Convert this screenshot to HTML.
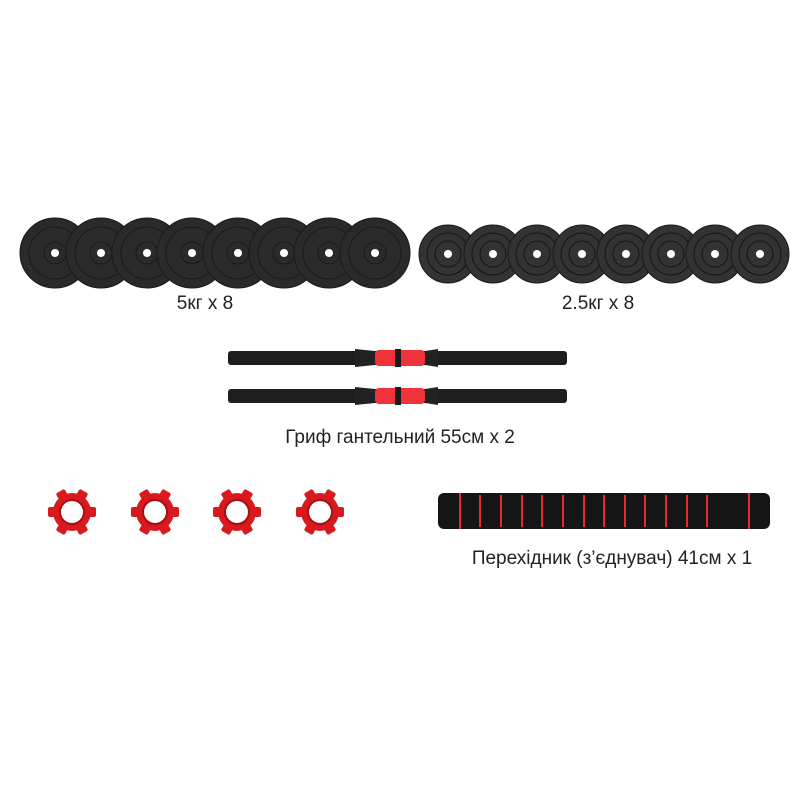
<!DOCTYPE html>
<html><head><meta charset="utf-8"><style>
html,body{margin:0;padding:0;background:#fff;}
svg{display:block;}
text{font-family:"Liberation Sans",sans-serif;fill:#222;}
</style></head><body>
<svg width="800" height="800" viewBox="0 0 800 800" xmlns="http://www.w3.org/2000/svg">
<defs>
<g id="p5">
<circle r="35" fill="#2a2a2a" stroke="#1a1a1a" stroke-width="1"/>
<circle r="26" fill="none" stroke="#1a1a1a" stroke-width="1"/>
<circle r="11" fill="none" stroke="#1a1a1a" stroke-width="1"/>
<circle r="4" fill="#fff"/>
</g>
<g id="p25">
<circle r="29" fill="#333" stroke="#1a1a1a" stroke-width="1"/>
<circle r="21" fill="none" stroke="#151515" stroke-width="1"/>
<circle r="13" fill="none" stroke="#151515" stroke-width="1"/>
<circle r="4" fill="#fff"/>
</g>
<g id="bar">
<rect x="228" y="-7" width="339" height="14" rx="3" fill="#1e1e1e"/>
<path d="M355 -9 L375 -7 L375 7 L355 9 Z" fill="#222"/>
<path d="M438 -9 L425 -7 L425 7 L438 9 Z" fill="#222"/>
<rect x="375" y="-8" width="50" height="16" rx="4" fill="#f0333a"/>
<rect x="395" y="-9" width="6" height="18" fill="#1a1a1a"/>
</g>
<g id="col">
<g fill="#d8191e">
<circle r="19"/>
<rect x="-5" y="-24" width="10" height="7" rx="2" transform="rotate(-30)"/>
<rect x="-5" y="-24" width="10" height="7" rx="2" transform="rotate(30)"/>
<rect x="-5" y="-24" width="10" height="7" rx="2" transform="rotate(90)"/>
<rect x="-5" y="-24" width="10" height="7" rx="2" transform="rotate(150)"/>
<rect x="-5" y="-24" width="10" height="7" rx="2" transform="rotate(210)"/>
<rect x="-5" y="-24" width="10" height="7" rx="2" transform="rotate(270)"/>
</g>
<circle r="12" fill="#fff" stroke="#a50f13" stroke-width="2"/>
</g>
</defs>
<use href="#p5" x="55" y="253"/><use href="#p5" x="101" y="253"/><use href="#p5" x="147" y="253"/><use href="#p5" x="192" y="253"/>
<use href="#p5" x="238" y="253"/><use href="#p5" x="284" y="253"/><use href="#p5" x="329" y="253"/><use href="#p5" x="375" y="253"/>
<use href="#p25" x="448" y="254"/><use href="#p25" x="493" y="254"/><use href="#p25" x="537" y="254"/><use href="#p25" x="582" y="254"/>
<use href="#p25" x="626" y="254"/><use href="#p25" x="671" y="254"/><use href="#p25" x="715" y="254"/><use href="#p25" x="760" y="254"/>
<text x="205" y="309" font-size="19" text-anchor="middle">5кг x 8</text>
<text x="598" y="309" font-size="19" text-anchor="middle">2.5кг x 8</text>
<use href="#bar" y="358"/>
<use href="#bar" y="396"/>
<text x="400" y="443" font-size="19" text-anchor="middle">Гриф гантельний 55см x 2</text>
<use href="#col" x="72" y="512"/><use href="#col" x="155" y="512"/><use href="#col" x="237" y="512"/><use href="#col" x="320" y="512"/>
<rect x="438" y="493" width="332" height="36" rx="6" fill="#151515"/>
<g fill="#e8262c">
<rect x="459" y="493" width="2" height="36"/><rect x="479" y="495" width="2" height="32"/><rect x="500" y="495" width="2" height="32"/>
<rect x="521" y="495" width="2" height="32"/><rect x="541" y="495" width="2" height="32"/><rect x="562" y="495" width="2" height="32"/>
<rect x="583" y="495" width="2" height="32"/><rect x="603" y="495" width="2" height="32"/><rect x="624" y="495" width="2" height="32"/>
<rect x="644" y="495" width="2" height="32"/><rect x="665" y="495" width="2" height="32"/><rect x="686" y="495" width="2" height="32"/>
<rect x="706" y="495" width="2" height="32"/><rect x="748" y="493" width="2" height="36"/>
</g>
<text x="612" y="564" font-size="19" text-anchor="middle">Перехідник (з’єднувач) 41см x 1</text>
</svg>
</body></html>
